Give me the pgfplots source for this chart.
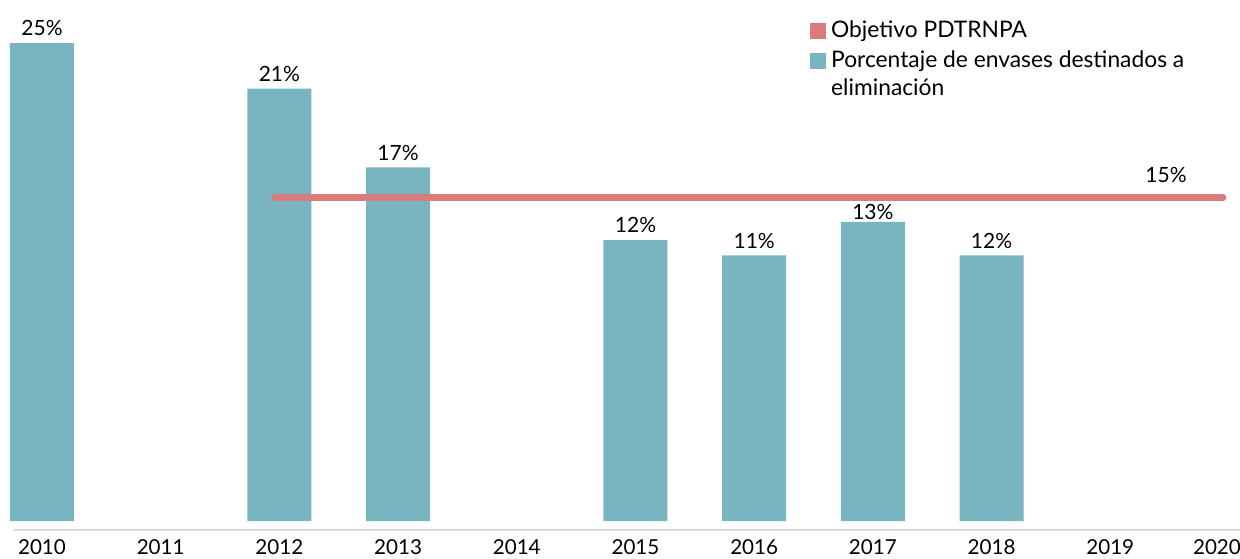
\documentclass[border=0pt]{standalone}
\usepackage{pgfplots}
\usepackage{pgfplotstable}
\pgfplotsset{compat=1.18}
\usepackage{fontspec}
\setmainfont{Lato}
\definecolor{barteal}{RGB}{121,180,193}
\definecolor{goalred}{RGB}{216,124,124}
\definecolor{axisgray}{RGB}{217,217,217}
\definecolor{txt}{RGB}{26,26,26}

% x = year - 2010, y = bar height (%), lab = printed label, dy = label offset (pt)
\pgfplotstableread{
x  y     lab  dy
0  25    25   0
2  22    21   0
3  16.8  17   0
5  12    12   0
6  11    11   0
7  13.2  13   -2.5
8  11    12   0
}\envases

\begin{document}
\begin{tikzpicture}
\useasboundingbox (0,0) rectangle (620pt,279pt);
\begin{axis}[
  at={(6.5pt,18.5pt)}, anchor=south west,
  scale only axis, width=613.5pt, height=260.5pt,
  xmin=-0.2443, xmax=10.093,
  ymin=-6.53, ymax=27.84,
  y coord trafo/.code={\pgfmathparse{#1+6.53}},
  y coord inv trafo/.code={\pgfmathparse{#1-6.53}},
  axis line style={draw=none},
  ytick=\empty,
  xtick={0,...,9},
  xticklabels={2010,2011,2012,2013,2014,2015,2016,2017,2018,2019},
  extra x ticks={10},
  extra x tick labels={2020},
  extra x tick style={xticklabel style={xshift=-6pt}},
  major tick length=0pt,
  xticklabel style={yshift=-6pt, font=\fontsize{10.3}{12}\selectfont},
  /pgf/number format/assume math mode=true,
  every node/.append style={text=txt},
  clip=false,
  legend style={at={(0.6495,0.968)}, anchor=north west, draw=none, fill=none,
    inner sep=0pt, row sep=1pt, font=\fontsize{11.4}{14}\selectfont,
    cells={align=left}, nodes={inner xsep=2.5pt}},
  legend cell align=left,
]
\draw[axisgray, line width=1pt] ([yshift=-4.5pt]rel axis cs:0,0) -- ([yshift=-4.5pt]rel axis cs:1,0);
\addlegendimage{legend image code/.code={\fill[goalred] (0pt,-3.75pt) rectangle (7.5pt,3.75pt);}}
\addlegendentry{Objetivo PDTRNPA}
\addlegendimage{legend image code/.code={\fill[barteal] (0pt,3.25pt) rectangle (7.5pt,10.75pt);}}
\addlegendentry{Porcentaje de envases destinados a\\eliminación}
\addplot[ybar, bar width=32pt, fill=barteal, draw=none, forget plot,
  point meta=explicit symbolic,
  visualization depends on={\thisrow{dy} \as \dy},
  nodes near coords={\pgfplotspointmeta\%},
  nodes near coords style={font=\fontsize{10.5}{12}\selectfont, yshift=\dy pt}]
  table[x=x, y=y, meta=lab] {\envases};
\addplot[goalred, line width=3.5pt, line cap=round, sharp plot, forget plot]
  coordinates {(1.96,14.8) (9.95,14.8)};
\node[above, yshift=4pt, font=\fontsize{10.5}{12}\selectfont] at (axis cs:9.47,14.8) {15\%};
\end{axis}
\end{tikzpicture}
\end{document}
